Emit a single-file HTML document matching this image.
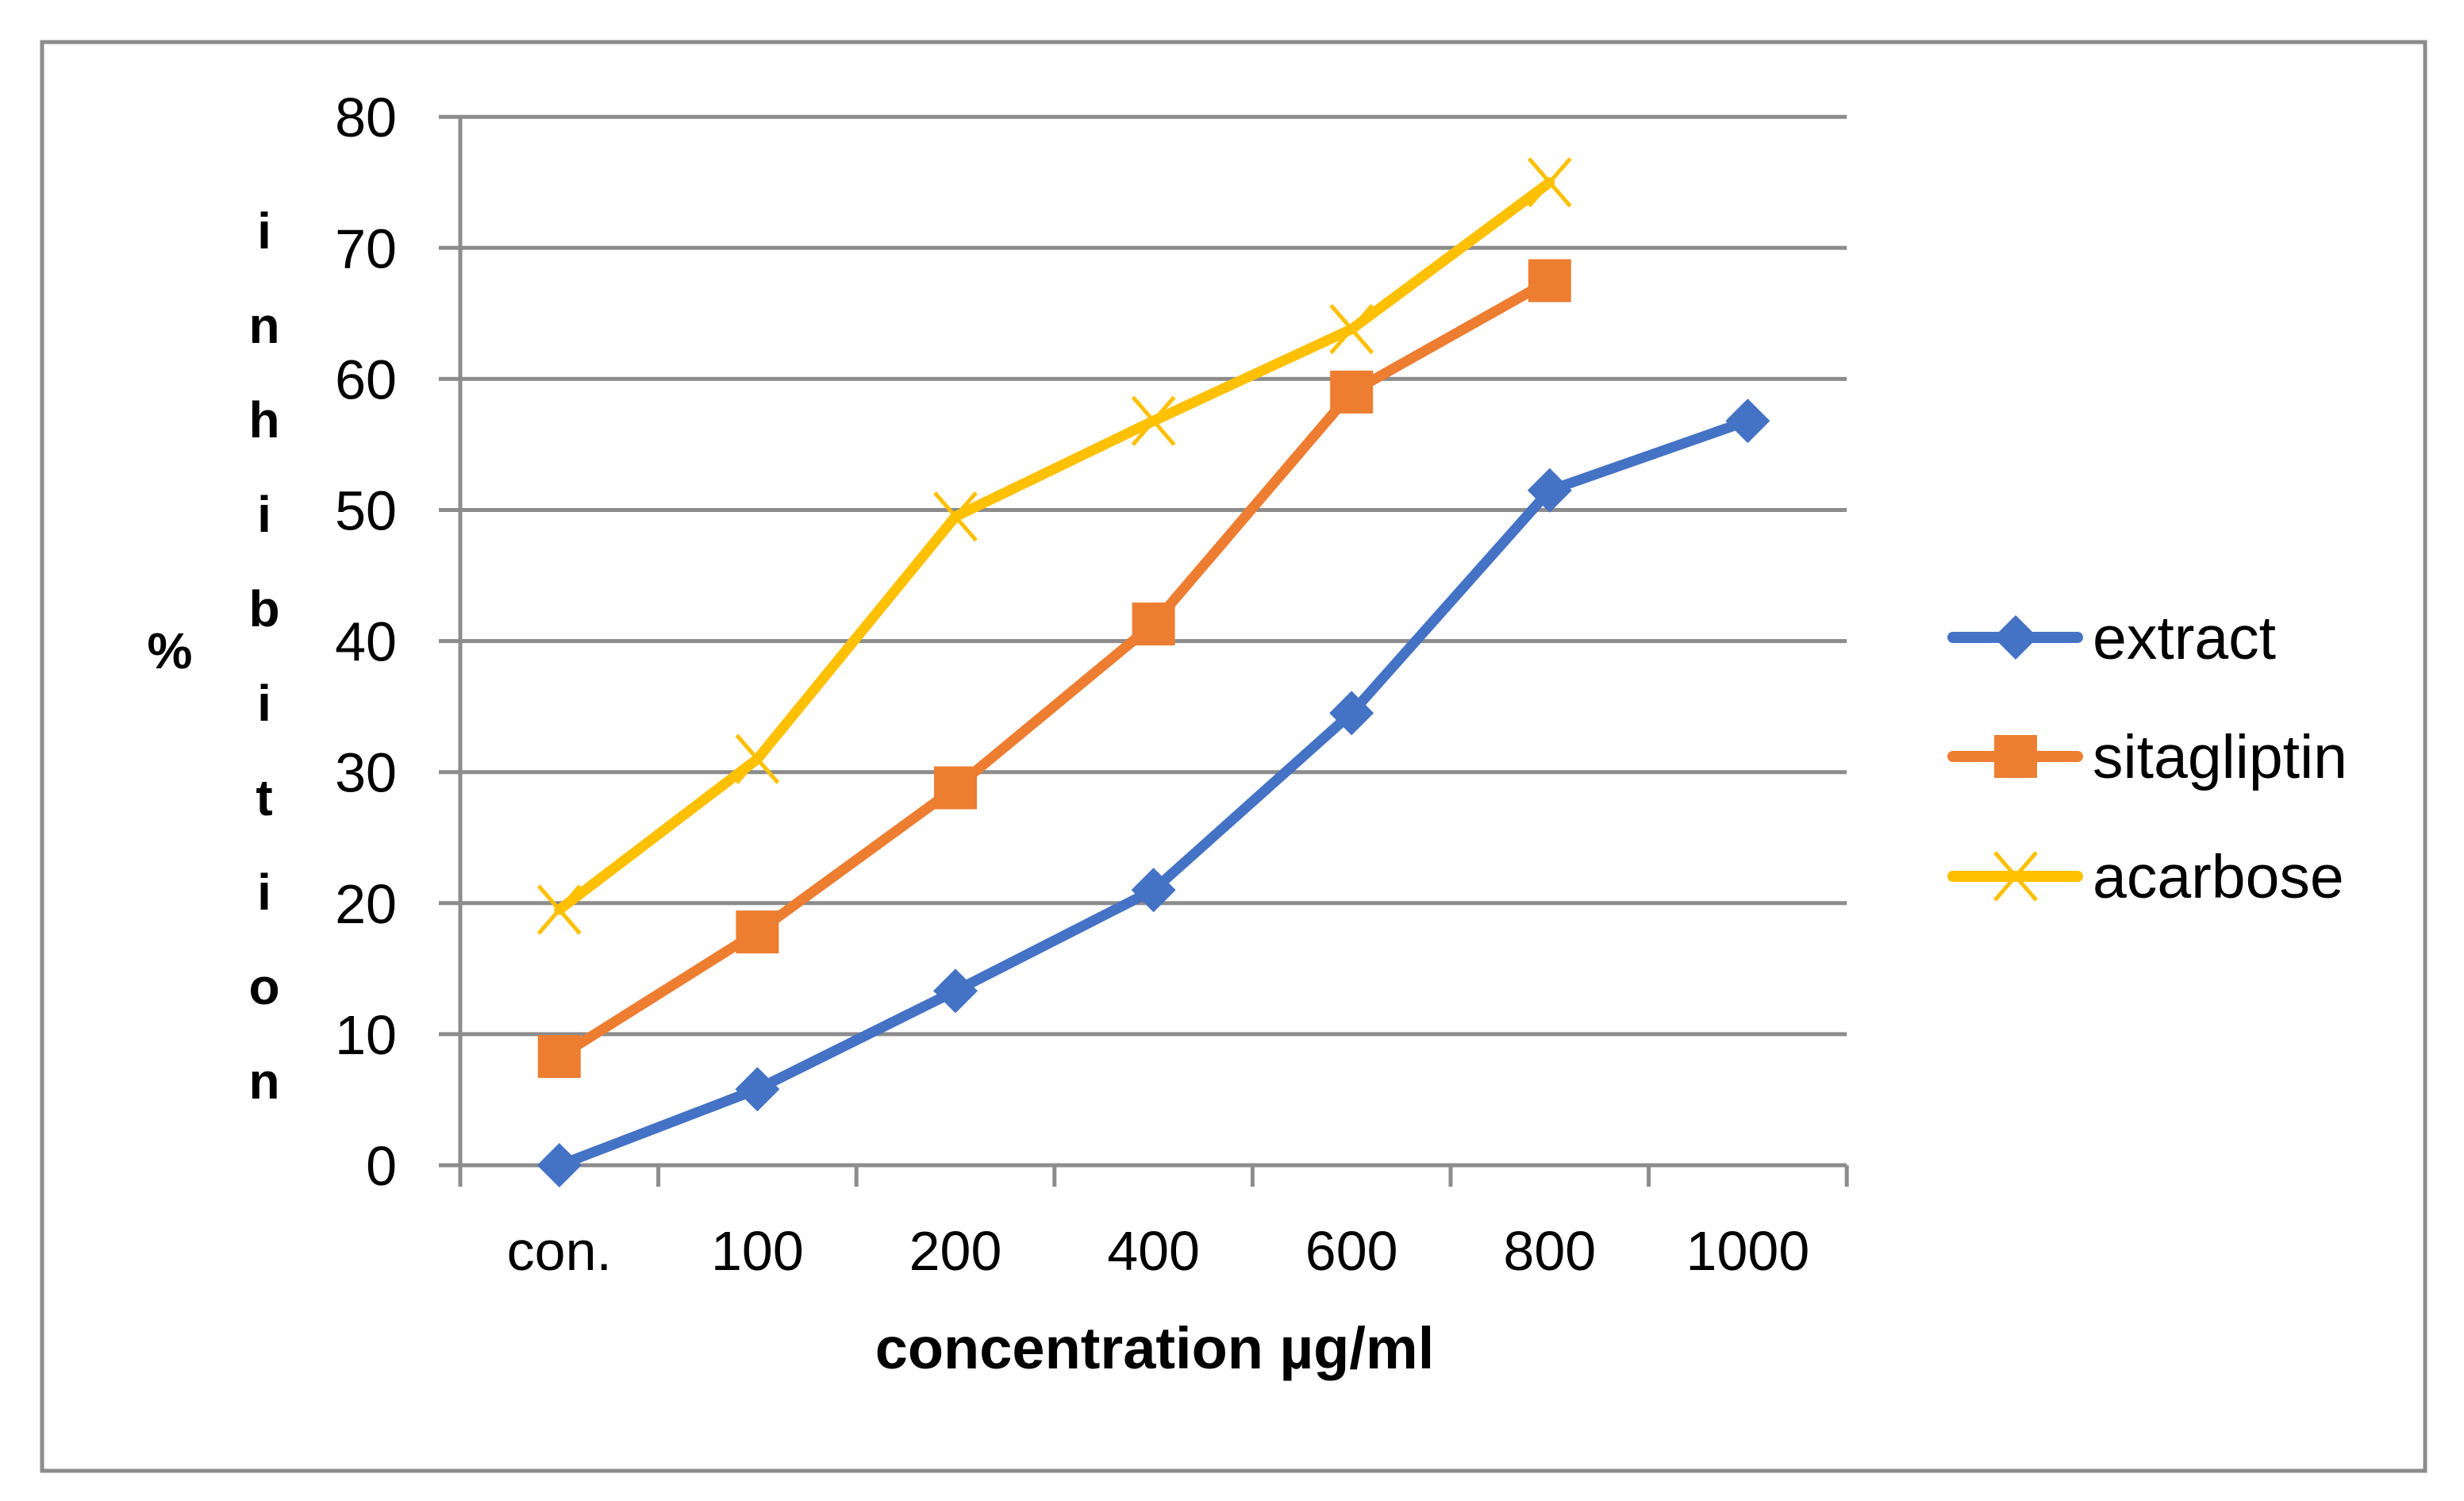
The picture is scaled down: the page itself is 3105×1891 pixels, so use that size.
<!DOCTYPE html>
<html><head><meta charset="utf-8">
<style>
html,body{margin:0;padding:0;background:#fff;}
svg{display:block;font-family:"Liberation Sans",sans-serif;}
</style></head>
<body>
<svg id="chart" width="3105" height="1891" viewBox="0 0 3105 1891" xmlns="http://www.w3.org/2000/svg">
<rect x="53" y="53" width="3003" height="1800" fill="#fff" stroke="#8c8c8c" stroke-width="5"/>
<g id="grid"></g>
<g id="axes"></g>
<g id="series"></g>
<text x="214" y="842" font-size="64" font-weight="bold" text-anchor="middle">%</text>
<g id="ytitle" font-size="64" font-weight="bold" text-anchor="middle"></g>
<text x="1455" y="1724" font-size="74" font-weight="bold" text-anchor="middle">concentration µg/ml</text>
<g id="legend"></g>
</svg>
<script>
const categories = ["con.","100","200","400","600","800","1000"];
const extractValues = [0,5.8,13.3,21,34.5,51.5,56.8];
const sitagliptinValues = [8.3,17.8,28.8,41.3,59,67.5];
const acarboseValues = [19.5,31,49.5,56.8,63.8,75];
const yTicks = [0,10,20,30,40,50,60,70,80];
const seriesNames = ["extract","sitagliptin","acarbose"];

const NS="http://www.w3.org/2000/svg";
const X0=580, STEP=249.6, Y0=1468, PXU=165.1/10;
function xPos(i){return X0+STEP*(i+0.5);}
function yPos(v){return Y0-v*PXU;}
function mk(tag,attrs,parent){const e=document.createElementNS(NS,tag);for(const k in attrs)e.setAttribute(k,attrs[k]);parent.appendChild(e);return e;}

const grid=document.getElementById('grid'), axes=document.getElementById('axes');
const XEND=X0+STEP*categories.length;
yTicks.forEach(t=>{
  const l=mk('line',{x1:X0-27,x2:XEND,y1:yPos(t),y2:yPos(t),stroke:'#8c8c8c','stroke-width':5},grid);
  
  
  const tx=mk('text',{x:500,y:yPos(t)+25,'font-size':70,'text-anchor':'end'},axes);
  tx.textContent=t;
  
  
});
const ya=mk('line',{x1:X0,x2:X0,y1:yPos(80),y2:Y0+27,stroke:'#8c8c8c','stroke-width':5},axes);


for(let i=0;i<=categories.length;i++){
  const tk=mk('line',{x1:X0+STEP*i,x2:X0+STEP*i,y1:Y0,y2:Y0+27,stroke:'#8c8c8c','stroke-width':5},axes);
  
  
}
categories.forEach((c,i)=>{
  const tx=mk('text',{x:xPos(i),y:1600,'font-size':70,'text-anchor':'middle'},axes);
  tx.textContent=c;
  
  
});

const yt=document.getElementById('ytitle');
"inhibition".split('').forEach((ch,i)=>{
  const t=mk('text',{x:333,y:313+i*119},yt);
  t.textContent=ch;
  
  
});

const colors=["#4472c4","#ed7d31","#ffc000"];
function marker(kind,x,y,color,parent){
  let m;
  if(kind===0){m=mk('polygon',{points:`${x},${y-28} ${x+28},${y} ${x},${y+28} ${x-28},${y}`,fill:color},parent);}
  else if(kind===1){m=mk('rect',{x:x-27,y:y-27,width:54,height:54,fill:color},parent);}
  else {m=mk('path',{d:`M${x-26},${y-30}L${x+26},${y+30}M${x+26},${y-30}L${x-26},${y+30}`,stroke:color,'stroke-width':5,fill:'none'},parent);}
  return m;
}
const ser=document.getElementById('series');
[extractValues,sitagliptinValues,acarboseValues].forEach((vals,s)=>{
  const g=mk('g',{},ser);
  
  
  const pts=vals.map((v,i)=>xPos(i)+','+yPos(v)).join(' ');
  const pl=mk('polyline',{points:pts,fill:'none',stroke:colors[s],'stroke-width':13,'stroke-linejoin':'round','stroke-linecap':'round'},g);
  
  
  vals.forEach((v,i)=>{
    const m=marker(s,xPos(i),yPos(v),colors[s],g);
    
    
  });
});

const lg=document.getElementById('legend');
const legY=[803,953,1104];
seriesNames.forEach((n,s)=>{
  const g=mk('g',{},lg);
  
  
  mk('line',{x1:2461,x2:2618,y1:legY[s],y2:legY[s],stroke:colors[s],'stroke-width':14,'stroke-linecap':'round'},g);
  marker(s,2540,legY[s],colors[s],g);
  const t=mk('text',{x:2637,y:legY[s]+27,'font-size':77},g);
  t.textContent=n;
});
</script>
</body></html>
